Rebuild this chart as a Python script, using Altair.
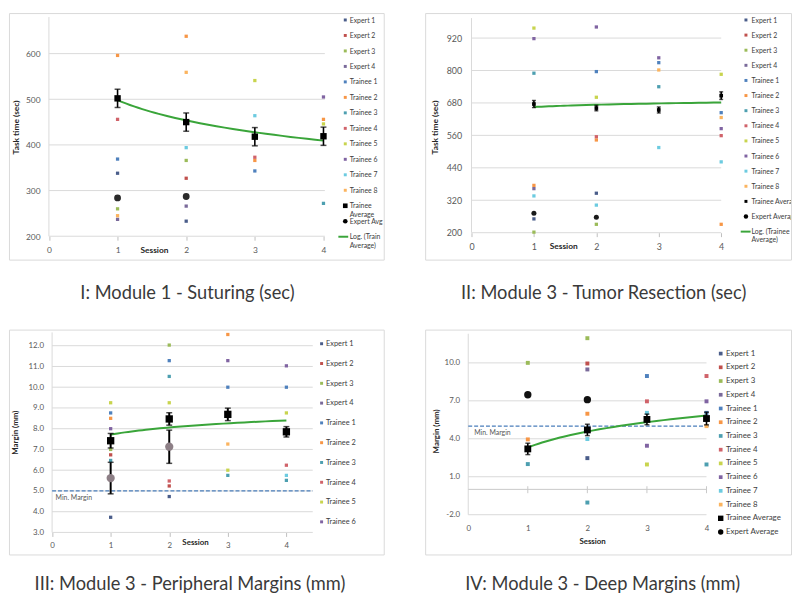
import altair as alt
import pandas as pd

SESSIONS = [1, 2, 3, 4]
X_TICKS = [0, 1, 2, 3, 4]
SERIES = ["Expert 1", "Expert 2", "Expert 3", "Expert 4",
          "Trainee 1", "Trainee 2", "Trainee 3", "Trainee 4",
          "Trainee 5", "Trainee 6", "Trainee 7", "Trainee 8"]

COLORS_MAIN = ["#4a5d8a", "#c0504d", "#9bbb59", "#7a6a9a",
               "#4f81bd", "#f79646", "#4d9fb0", "#d0636a",
               "#c8d44e", "#8064a2", "#6ccbe0", "#fbb45f"]
COLORS_PERIPH = ["#2f3f66", "#c0504d", "#e6cf8a", "#3b3560",
                 "#a6a6a6", "#d3564a", "#4f94c0", "#c0504d",
                 "#3d3d3d", "#4d3b62", "#7fb6c8", "#f0a35a"]

# ---------------- Panel I : Module 1 - Suturing ----------------
P1_CAPTION = "I: Module 1 - Suturing (sec)"
P1_YTITLE = "Task time (sec)"
P1_YTICKS = [200, 300, 400, 500, 600]
P1_POINTS = {
    "Expert 1": [338, 233, None, None],
    "Expert 2": [None, 327, None, None],
    "Expert 3": [260, 366, None, None],
    "Expert 4": [237, 266, None, None],
    "Trainee 1": [369, None, 343, None],
    "Trainee 2": [596, 638, 366, 456],
    "Trainee 3": [None, None, None, 272],
    "Trainee 4": [456, None, 373, None],
    "Trainee 5": [None, None, 541, 446],
    "Trainee 6": [None, None, None, 505],
    "Trainee 7": [None, 394, 464, None],
    "Trainee 8": [245, 559, None, None],
}
P1_TRAINEE_AVG = [502, 450, 418, 419]
P1_TRAINEE_ERR = [20, 20, 20, 20]
P1_EXPERT_AVG = [284, 287, None, None]
P1_EXPERT_ERR = [None, None, None, None]
P1_LEGEND_LABELS = SERIES + ["Trainee\nAverage", "Expert Avg", "Log. (Train\nAverage)"]
P1_LEGEND_KINDS = ["pt"] * 12 + ["tavg", "eavg", "line"]

# ---------------- Panel II : Module 3 - Tumor Resection ----------------
P2_CAPTION = "II: Module 3 - Tumor Resection (sec)"
P2_YTITLE = "Task time (sec)"
P2_YTICKS = [200, 320, 440, 560, 680, 800, 920]
P2_POINTS = {
    "Expert 1": [251, 346, None, None],
    "Expert 2": [None, None, None, None],
    "Expert 3": [202, 231, None, None],
    "Expert 4": [363, None, None, None],
    "Trainee 1": [None, 796, 829, 644],
    "Trainee 2": [375, 543, None, 231],
    "Trainee 3": [790, None, 740, None],
    "Trainee 4": [None, 555, None, 559],
    "Trainee 5": [957, 701, None, 786],
    "Trainee 6": [918, 961, 847, 585],
    "Trainee 7": [336, 302, 515, 462],
    "Trainee 8": [None, None, 802, 626],
}
P2_TRAINEE_AVG = [676, 661, 654, 707]
P2_TRAINEE_ERR = [13, 10, 11, 14]
P2_EXPERT_AVG = [272, 257, None, None]
P2_EXPERT_ERR = [None, None, None, None]
P2_LEGEND_LABELS = SERIES + ["Trainee Average", "Expert Average", "Log. (Trainee\nAverage)"]
P2_LEGEND_KINDS = ["pt"] * 12 + ["tavg", "eavg", "line"]

# ---------------- Panel III : Module 3 - Peripheral Margins ----------------
P3_CAPTION = "III: Module 3 - Peripheral Margins (mm)"
P3_YTITLE = "Margin (mm)"
P3_YTICKS = [3, 4, 5, 6, 7, 8, 9, 10, 11, 12]
P3_POINTS = {
    "Expert 1": [3.73, 4.73, None, None],
    "Expert 2": [6.74, 5.24, None, None],
    "Expert 3": [7.0, 12.03, None, None],
    "Expert 4": [None, None, None, None],
    "Trainee 1": [8.76, 11.28, 10.0, 10.0],
    "Trainee 2": [8.5, None, 12.54, None],
    "Trainee 3": [6.47, 10.52, 5.75, 5.51],
    "Trainee 4": [None, 5.48, None, 6.24],
    "Trainee 5": [9.25, 9.25, 6.0, 8.76],
    "Trainee 6": [8.0, None, 11.28, 11.03],
    "Trainee 7": [None, None, None, 5.75],
    "Trainee 8": [None, None, 7.26, None],
}
P3_TRAINEE_AVG = [7.42, 8.47, 8.69, 7.85]
P3_TRAINEE_ERR = [0.35, 0.3, 0.3, 0.25]
P3_EXPERT_AVG = [5.62, 7.13, None, None]
P3_EXPERT_ERR = [0.76, 0.8, None, None]
P3_LEGEND_LABELS = SERIES[:10]
P3_LEGEND_KINDS = ["pt"] * 10
MIN_MARGIN = 5.0

# ---------------- Panel IV : Module 3 - Deep Margins ----------------
P4_CAPTION = "IV: Module 3 - Deep Margins (mm)"
P4_YTITLE = "Margin (mm)"
P4_YTICKS = [-2, 1, 4, 7, 10]
P4_POINTS = {
    "Expert 1": [None, 2.47, None, None],
    "Expert 2": [None, 9.95, None, None],
    "Expert 3": [10.0, 11.95, None, None],
    "Expert 4": [None, 9.48, None, None],
    "Trainee 1": [None, None, 8.96, 6.05],
    "Trainee 2": [3.95, 5.98, None, None],
    "Trainee 3": [2.0, -1.04, None, 1.97],
    "Trainee 4": [None, None, 6.96, 8.96],
    "Trainee 5": [None, None, 1.97, None],
    "Trainee 6": [None, None, 3.45, 6.96],
    "Trainee 7": [None, 3.98, 6.05, None],
    "Trainee 8": [None, None, None, 5.0],
}
P4_TRAINEE_AVG = [3.2, 4.7, 5.53, 5.6]
P4_TRAINEE_ERR = [0.45, 0.45, 0.42, 0.5]
P4_EXPERT_AVG = [7.48, 7.09, None, None]
P4_EXPERT_ERR = [None, None, None, None]
P4_LEGEND_LABELS = SERIES + ["Trainee Average", "Expert Average"]
P4_LEGEND_KINDS = ["pt"] * 12 + ["tavg", "eavg"]

# ---------------- layout (pixels / scale extents) ----------------
L1 = dict(width=380, height=250, xdom=[-0.5819, 4.8779], ydom=[148.8, 688.8],
          grid_x2=4.02, ybot=200, ytop=680,
          yoff=-40.5, ylpad=9, ytx=-33.5, yty=115.5, yfmt="d",
          xoff=-23.7, xticks=True, xlpad=5.5, xtx=147, xty=13.4,
          tickfs=8.5, titlefs=8.5, ptsize=11, tsize=42, esize=48, ecolor="#2b2b2b",
          errw=1.6, capw=6, mm_x2=None, mm_tx=None, zero=False,
          leg_dom=[-7 / 15.7, (250 - 7) / 15.7], leg_mx=341, leg_tx=345.5, leg_l=[334, 344],
          legfs=7, lptsize=9, ltsize=22, lesize=22,
          cap_off=25, cap_dx=-9, cap_fs=18.5)
L2 = dict(width=371, height=250, xdom=[-0.7425, 5.1185], ydom=[100.4, 1012.5],
          grid_x2=4.0, ybot=200, ytop=994,
          yoff=-47, ylpad=10, ytx=-37.3, yty=115.5, yfmt="d",
          xoff=-27.3, xticks=True, xlpad=6.4, xtx=140, xty=12.6,
          tickfs=9, titlefs=8.5, ptsize=11, tsize=14, esize=26, ecolor="#1a1a1a",
          errw=1.6, capw=4, mm_x2=None, mm_tx=None, zero=False,
          leg_dom=[-7 / 15.33, (250 - 7) / 15.33], leg_mx=325.3, leg_tx=331, leg_l=[320, 330],
          legfs=7, lptsize=9, ltsize=9, lesize=20,
          cap_off=25, cap_dx=-4.5, cap_fs=18.5)
L3 = dict(width=380, height=228, xdom=[-0.7357, 5.6616], ydom=[1.938, 12.775],
          grid_x2=4.45, ybot=3, ytop=12.64,
          yoff=-43.7, ylpad=8.7, ytx=-36.7, yty=104, yfmt=".1f",
          xoff=-22.3, xticks=True, xlpad=5.7, xtx=188.7, xty=10.3,
          tickfs=8, titlefs=8, ptsize=11, tsize=55, esize=70, ecolor="#8d7f86",
          errw=2, capw=6, mm_x2=4.45, mm_tx=0.06, zero=False,
          leg_dom=[-14.3 / 20.07, (228 - 14.3) / 20.07], leg_mx=317, leg_tx=321.5, leg_l=[312, 322],
          legfs=7.5, lptsize=9, ltsize=30, lesize=30,
          cap_off=21, cap_dx=-6.5, cap_fs=18.5)
L4 = dict(width=371, height=228, xdom=[-0.7235, 5.4189], ydom=[-5.144, 12.627],
          grid_x2=4.0, ybot=-2, ytop=12.3,
          yoff=-43.7, ylpad=8.7, ytx=-31.7, yty=102.7, yfmt=".1f",
          xoff=-40.3, xticks=False, xlpad=10.4, xtx=169.3, xty=27.6,
          tickfs=8, titlefs=8, ptsize=16, tsize=48, esize=55, ecolor="#111111",
          errw=1.6, capw=5, mm_x2=4.05, mm_tx=0.1, zero=True,
          leg_dom=[-24.3 / 13.92, (228 - 24.3) / 13.92], leg_mx=299.7, leg_tx=305, leg_l=[294, 304],
          legfs=8, lptsize=14, ltsize=30, lesize=30,
          cap_off=21, cap_dx=-5.5, cap_fs=18.5)

GREEN = "#3aa53a"
LABEL_GRAY = "#595959"


def points_frame(points):
    rows = []
    for name, vals in points.items():
        for s, v in zip(SESSIONS, vals):
            if v is not None:
                rows.append({"series": name, "session": s, "value": v})
    return pd.DataFrame(rows)


def avg_frame(avg, err):
    rows = []
    for s, v, e in zip(SESSIONS, avg, err):
        if v is None:
            continue
        row = {"session": s, "value": v, "lo": None, "hi": None}
        if e is not None:
            row["lo"] = v - e
            row["hi"] = v + e
        rows.append(row)
    return pd.DataFrame(rows)


def build_panel(L, points, colors, tavg, terr, eavg, eerr, yticks, ytitle,
                leg_labels, leg_kinds, caption):
    xs = alt.Scale(domain=L["xdom"], nice=False, zero=False)
    ys = alt.Scale(domain=L["ydom"], nice=False, zero=False)
    cs = alt.Scale(domain=SERIES, range=colors)

    if L["yfmt"] == "d":
        lexpr = "format(datum.value, 'd')"
    else:
        lexpr = "replace(format(datum.value, '.1f'), '\u2212', '-')"

    yaxis = alt.Axis(values=yticks, offset=L["yoff"], domain=False, ticks=False, tickSize=0,
                     grid=False, labelPadding=L["ylpad"], labelFontSize=L["tickfs"],
                     labelColor=LABEL_GRAY, labelFont="Lato", labelOverlap=False,
                     labelFlush=False, labelExpr=lexpr,
                     title=ytitle, titleFont="Lato", titleFontSize=L["titlefs"],
                     titleFontWeight="bold", titleColor="#262626", titleX=L["ytx"],
                     titleY=L["yty"], titleAngle=270, titleBaseline="middle",
                     titleAlign="center")
    xaxis = alt.Axis(values=X_TICKS, offset=L["xoff"], domain=False, ticks=L["xticks"],
                     tickSize=4 if L["xticks"] else 0, tickColor="#bfbfbf", tickWidth=1,
                     grid=False, labelPadding=L["xlpad"], labelFontSize=L["tickfs"],
                     labelColor=LABEL_GRAY, labelFont="Lato", labelOverlap=False,
                     labelFlush=False, format="d",
                     title="Session", titleFont="Lato", titleFontSize=L["titlefs"],
                     titleFontWeight="bold", titleColor="#262626", titleX=L["xtx"],
                     titleY=L["xty"], titleBaseline="middle", titleAlign="center")

    # every layer carries the same explicit scale and axis, so they merge cleanly
    def xq(f):
        return alt.X(f, type="quantitative", scale=xs, axis=xaxis)

    def yq(f):
        return alt.Y(f, type="quantitative", scale=ys, axis=yaxis)

    layers = []
    grid_df = pd.DataFrame({"value": yticks, "x0": 0, "x1": L["grid_x2"]})
    layers.append(alt.Chart(grid_df).mark_rule(color="#d9d9d9", strokeWidth=1).encode(
        x=xq("x0"), x2="x1", y=yq("value")))
    vline_df = pd.DataFrame({"x0": [0], "lo": [L["ybot"]], "hi": [L["ytop"]]})
    layers.append(alt.Chart(vline_df).mark_rule(color="#d9d9d9", strokeWidth=1).encode(
        x=xq("x0"), y=yq("lo"), y2="hi"))
    if L["zero"]:
        zero_df = pd.DataFrame({"value": [0], "x0": [0], "x1": [4]})
        layers.append(alt.Chart(zero_df).mark_rule(color="#c8c8c8", strokeWidth=1).encode(
            x=xq("x0"), x2="x1", y=yq("value")))
        zt_df = pd.DataFrame({"session": SESSIONS, "lo": -0.3, "hi": 0.25})
        layers.append(alt.Chart(zt_df).mark_rule(color="#c8c8c8", strokeWidth=1).encode(
            x=xq("session"), y=yq("lo"), y2="hi"))
    if L["mm_x2"] is not None:
        mm_df = pd.DataFrame({"value": [MIN_MARGIN], "x0": [0], "x1": [L["mm_x2"]]})
        layers.append(alt.Chart(mm_df).mark_rule(color="#4a7ebb", strokeWidth=1.3,
                                                 strokeDash=[4, 2]).encode(
            x=xq("x0"), x2="x1", y=yq("value")))
        mt_df = pd.DataFrame({"session": [L["mm_tx"]], "value": [MIN_MARGIN],
                              "label": ["Min. Margin"]})
        layers.append(alt.Chart(mt_df).mark_text(align="left", baseline="middle", dy=7.5,
                                                 fontSize=7, font="Lato",
                                                 color=LABEL_GRAY).encode(
            x=xq("session"), y=yq("value"), text="label:N"))

    pts_df = points_frame(points)
    layers.append(alt.Chart(pts_df).mark_square(size=L["ptsize"], opacity=1).encode(
        x=xq("session"), y=yq("value"),
        color=alt.Color("series:N", scale=cs, legend=None)))

    t_df = avg_frame(tavg, terr)
    # logarithmic trend line fitted by the library to the trainee averages
    layers.append(alt.Chart(t_df).transform_regression(
        "session", "value", method="log", extent=[1, 4]).mark_line(
        color=GREEN, strokeWidth=2).encode(x=xq("session"), y=yq("value")))

    e_df = avg_frame(eavg, eerr)
    for df in (t_df, e_df):
        eb = df.dropna(subset=["lo"])
        if len(eb) == 0:
            continue
        layers.append(alt.Chart(eb).mark_rule(color="black", strokeWidth=L["errw"]).encode(
            x=xq("session"), y=yq("lo"), y2="hi"))
        for f in ("lo", "hi"):
            layers.append(alt.Chart(eb).mark_tick(orient="horizontal", size=L["capw"],
                                                  thickness=1.5, color="black").encode(
                x=xq("session"), y=yq(f)))

    layers.append(alt.Chart(t_df).mark_square(size=L["tsize"], color="black",
                                              opacity=1).encode(
        x=xq("session"), y=yq("value")))
    layers.append(alt.Chart(e_df).mark_circle(size=L["esize"], color=L["ecolor"],
                                              opacity=1).encode(
        x=xq("session"), y=yq("value")))

    main = alt.layer(*layers)

    # ----- legend -----
    ls = alt.Scale(domain=L["leg_dom"], reverse=True, nice=False, zero=False)
    leg_df = pd.DataFrame({"row": list(range(len(leg_labels))), "label": leg_labels,
                           "kind": leg_kinds})
    leg_df["series"] = [lab if k == "pt" else "" for lab, k in zip(leg_labels, leg_kinds)]
    ly = alt.Y("row:Q", scale=ls, axis=None)
    leg_layers = []
    pdf = leg_df[leg_df.kind == "pt"]
    leg_layers.append(alt.Chart(pdf).mark_square(size=L["lptsize"], opacity=1).encode(
        x=alt.value(L["leg_mx"]), y=ly,
        color=alt.Color("series:N", scale=cs, legend=None)))
    tdf = leg_df[leg_df.kind == "tavg"]
    if len(tdf):
        leg_layers.append(alt.Chart(tdf).mark_square(size=L["ltsize"], color="black",
                                                     opacity=1).encode(
            x=alt.value(L["leg_mx"]), y=ly))
    edf = leg_df[leg_df.kind == "eavg"]
    if len(edf):
        leg_layers.append(alt.Chart(edf).mark_circle(size=L["lesize"], color="black",
                                                     opacity=1).encode(
            x=alt.value(L["leg_mx"]), y=ly))
    ldf = leg_df[leg_df.kind == "line"]
    if len(ldf):
        leg_layers.append(alt.Chart(ldf).mark_rule(color=GREEN, strokeWidth=2).encode(
            x=alt.value(L["leg_l"][0]), x2=alt.value(L["leg_l"][1]), y=ly))
    fs = L["legfs"]
    leg_layers.append(alt.Chart(leg_df).mark_text(
        align="left", baseline="top", dy=-round(0.49 * fs, 1), fontSize=fs, font="Lato",
        color="#404040", lineBreak="\n", lineHeight=fs * 1.2, clip=True).encode(
        x=alt.value(L["leg_tx"]), y=ly, text="label:N"))
    legend = alt.layer(*leg_layers)

    return alt.layer(main, legend).resolve_scale(y="independent").properties(
        width=L["width"], height=L["height"],
        title=alt.TitleParams(text=caption, orient="bottom", anchor="middle",
                              offset=L["cap_off"], dx=L["cap_dx"], fontSize=L["cap_fs"],
                              font="Lato", fontWeight="normal", color="#3a3a3a",
                              baseline="top"))


p1 = build_panel(L1, P1_POINTS, COLORS_MAIN, P1_TRAINEE_AVG, P1_TRAINEE_ERR,
                 P1_EXPERT_AVG, P1_EXPERT_ERR, P1_YTICKS, P1_YTITLE,
                 P1_LEGEND_LABELS, P1_LEGEND_KINDS, P1_CAPTION)
p2 = build_panel(L2, P2_POINTS, COLORS_MAIN, P2_TRAINEE_AVG, P2_TRAINEE_ERR,
                 P2_EXPERT_AVG, P2_EXPERT_ERR, P2_YTICKS, P2_YTITLE,
                 P2_LEGEND_LABELS, P2_LEGEND_KINDS, P2_CAPTION)
p3 = build_panel(L3, P3_POINTS, COLORS_PERIPH, P3_TRAINEE_AVG, P3_TRAINEE_ERR,
                 P3_EXPERT_AVG, P3_EXPERT_ERR, P3_YTICKS, P3_YTITLE,
                 P3_LEGEND_LABELS, P3_LEGEND_KINDS, P3_CAPTION)
p4 = build_panel(L4, P4_POINTS, COLORS_MAIN, P4_TRAINEE_AVG, P4_TRAINEE_ERR,
                 P4_EXPERT_AVG, P4_EXPERT_ERR, P4_YTICKS, P4_YTITLE,
                 P4_LEGEND_LABELS, P4_LEGEND_KINDS, P4_CAPTION)

chart = alt.vconcat(
    alt.hconcat(p1, p2, spacing=40),
    alt.hconcat(p3, p4, spacing=40),
    spacing=26,
).properties(padding=0, background="white").configure(font="Lato").configure_view(
    stroke="#d9d9d9", strokeWidth=1)

chart.save("out.html", embed_options={"renderer": "svg", "actions": False})
